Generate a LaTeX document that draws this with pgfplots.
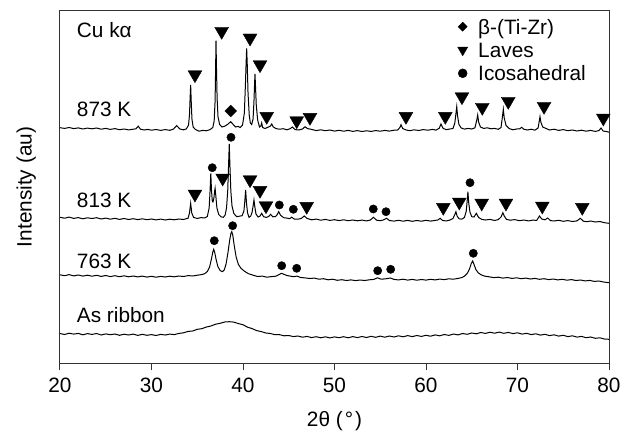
\documentclass[border=0pt]{standalone}
\usepackage{fontspec}
\setmainfont{Liberation Sans}
\usepackage{pgfplots}
\pgfplotsset{compat=1.18}
\usepackage{pgfplotstable}

\pgfplotstableread{
x y
20 29.5
20.5 28.5
21 29.8
21.5 28.9
22 29.6
22.5 28.2
23 29.4
23.5 28.6
24 29.5
24.5 28.0
25 29.1
25.5 28.3
26 29.0
26.5 27.7
27 28.8
27.5 28.0
28 28.9
28.5 27.6
29 28.7
29.5 27.7
30 28.4
30.5 27.5
31 28.6
31.5 28.0
32 28.9
32.5 28.4
33 29.6
33.5 30.2
34 31.6
34.5 32.0
35 33.7
35.5 34.3
36 36.0
36.5 37.0
37 38.8
37.5 39.7
38 41.0
38.5 41.3
39 40.9
39.5 39.4
40 38.3
40.5 35.8
41 34.4
41.5 32.4
42 31.4
42.5 30.0
43 29.5
43.5 28.3
44 28.3
44.5 27.2
45 27.5
45.5 26.4
46 27.0
46.5 25.8
47 26.6
47.5 25.4
48 26.3
48.5 25.2
49 26.2
49.5 25.1
50 26.1
50.5 25.3
51 26.3
51.5 25.2
52 26.4
52.5 25.4
53 26.5
53.5 25.5
54 26.7
54.5 25.7
55 26.9
55.5 25.8
56 27.0
56.5 26.0
57 27.2
57.5 26.2
58 27.4
58.5 26.4
59 27.5
59.5 26.6
60 27.7
60.5 26.8
61 28.1
61.5 27.2
62 28.5
62.5 27.6
63 29.0
63.5 28.1
64 29.5
64.5 28.7
65 30.0
65.5 29.2
66 30.5
66.5 29.6
67 30.8
67.5 29.8
68 30.9
68.5 29.7
69 30.6
69.5 29.4
70 30.2
70.5 28.9
71 29.7
71.5 28.4
72 29.2
72.5 27.9
73 28.7
73.5 27.4
74 28.2
74.5 26.9
75 27.7
75.5 26.4
76 27.2
76.5 25.9
77 26.6
77.5 25.3
78 26.0
78.5 24.7
79 25.2
79.5 24.0
80 23.7
}\ribbon

\pgfplotstableread{
x y
20 88.2
20.5 87.3
21 88.4
21.5 87.1
22 88.0
22.5 86.9
23 87.8
23.5 86.8
24 87.7
24.5 86.6
25 87.5
25.5 86.4
26 87.3
26.5 86.3
27 87.2
27.5 86.2
28 87.0
28.5 86.1
29 86.9
29.5 85.9
30 86.7
30.5 85.8
31 86.6
31.5 86.0
32 86.8
32.5 86.2
33 87.0
33.5 86.5
34 87.4
34.5 87.0
35 87.8
35.4 88.3
35.8 89.2
36.1 91.5
36.35 96
36.55 104
36.7 111
36.8 113.7
36.9 111
37.05 104
37.25 96.5
37.5 92.5
37.74 91.3
37.95 93
38.15 99
38.35 110
38.55 123
38.68 129.5
38.77 131.3
38.88 128
39.05 117
39.25 106
39.5 98.5
39.8 94.5
40.2 91.5
40.6 89.3
41.1 87.8
41.6 86.5
42.1 86.9
42.6 85.8
43.1 86.4
43.6 86.8
43.9 88.2
44.2 89.7
44.5 88.6
44.8 87.5
45.1 87.0
45.5 86.3
45.9 86.9
46.3 85.5
46.8 85.1
47.3 84.5
47.8 84.9
48.3 83.8
48.8 84.3
49.3 83.2
49.8 83.8
50.3 82.7
50.8 83.3
51.3 82.5
51.8 83.1
52.3 82.4
52.8 83.0
53.3 82.5
53.8 83.2
54.3 83.6
54.7 85.2
55.1 83.8
55.6 84.2
56.1 85.0
56.5 83.6
57 83.1
57.5 83.8
58 82.9
58.5 83.6
59 82.8
59.5 83.5
60 82.9
60.5 83.7
61 83.1
61.5 83.9
62 83.4
62.5 84.2
63 83.8
63.5 84.6
63.9 85.4
64.2 86.8
64.5 89.5
64.75 94
64.95 99.5
65.1 102
65.25 98.5
65.45 93.5
65.7 90.3
66.0 88.3
66.4 86.9
66.9 86.2
67.4 85.4
67.9 85.8
68.4 84.9
68.9 85.5
69.4 84.6
69.9 85.2
70.4 84.3
70.9 84.9
71.4 84.0
71.9 84.6
72.4 83.7
72.9 84.3
73.4 83.4
73.9 84.0
74.4 83.1
74.9 83.7
75.4 82.8
75.9 83.4
76.4 82.5
76.9 83.0
77.4 82.1
77.9 82.6
78.4 81.6
78.9 82.0
79.4 81.0
80 80.3
}\kA

\pgfplotstableread{
x y
20 145.7
20.5 144.8
21 145.9
21.5 144.6
22 145.4
22.5 144.2
23 145.2
23.5 144.5
24 145.3
24.5 144.0
25 144.9
25.5 143.8
26 144.7
26.5 143.6
27 144.5
27.5 143.5
28 144.3
28.5 143.4
29 144.2
29.5 143.3
30 144.0
30.5 143.1
31 143.9
31.5 143.0
32 143.8
32.5 143.2
33 144.0
33.5 143.5
34.0 144.8
34.15 150
34.28 159.7
34.4 150
34.6 145.6
35.0 144.5
35.4 145.4
35.8 145.0
36.1 146.5
36.3 155
36.4 172
36.48 189.7
36.56 172
36.65 161.3
36.72 161
36.82 165
36.9 172
36.95 174.7
37.02 168
37.15 155
37.35 148.5
37.6 146.2
37.85 145.7
38.05 148
38.2 155
38.33 172
38.43 200
38.50 219
38.57 198
38.67 172
38.8 157
39.0 149.5
39.31 146.3
39.6 146.8
39.9 147.3
40.1 152
40.2 162
40.29 173
40.38 160
40.5 150
40.66 145.7
40.85 147
41.0 151
41.12 158
41.2 163
41.28 157
41.42 149
41.65 146
41.85 146.8
42.04 149.7
42.25 146.3
42.55 145.6
42.8 146.5
43.02 148.7
43.25 146.2
43.55 146.4
43.75 148.5
43.9 151.3
44.1 147.8
44.45 145.3
44.8 144.9
45.1 144.3
45.32 145.8
45.6 144.0
46.0 143.8
46.35 144.5
46.7 147.0
47.0 144.6
47.5 143.2
48 143.9
48.5 142.8
49 143.6
49.5 142.6
50 143.3
50.5 142.4
51 143.2
51.5 142.3
52 143.0
52.5 142.2
53 142.9
53.5 142.1
53.9 142.9
54.26 145.7
54.6 142.8
55.0 142.3
55.35 143.1
55.7 144.7
56.0 142.5
56.5 141.9
57 142.7
57.5 141.8
58 142.6
58.5 141.7
59 142.5
59.5 141.8
60 142.7
60.5 141.9
61.0 142.6
61.3 143.0
61.55 144.7
61.8 142.6
62.2 142.0
62.6 142.9
62.95 144.5
63.15 148.5
63.27 151.3
63.4 147.0
63.6 144.3
63.9 143.8
64.2 145.5
64.4 152
64.5 162
64.58 171.3
64.66 161
64.8 151
65.0 146.3
65.25 146.0
65.5 149.7
65.75 145.5
66.1 143.6
66.5 143.0
67 143.6
67.5 142.5
67.9 143.4
68.2 146.0
68.4 150.3
68.55 147.0
68.8 143.6
69.2 142.8
69.7 143.4
70.2 142.3
70.7 143.0
71.2 142.1
71.7 142.9
72.1 142.6
72.4 147.0
72.65 144.0
73.0 143.2
73.3 145.0
73.6 142.4
74 142.0
74.5 142.7
75 141.7
75.5 142.4
76 141.5
76.5 142.1
76.86 144.7
77.2 141.8
77.6 141.3
78 142.0
78.5 141.0
79 141.5
79.5 140.3
80 139.7
}\kB

\pgfplotstableread{
x y
20 235.3
20.5 234.6
21 235.5
21.5 234.4
22 235.1
22.5 234.0
23 234.9
23.5 234.2
24 235.0
24.5 233.8
25 234.6
25.5 233.6
26 234.4
26.5 233.3
27 234.0
27.5 233.1
28 233.8
28.3 234.2
28.55 236.8
28.8 233.8
29.2 233.0
29.6 233.6
30 232.8
30.5 233.5
31 232.6
31.5 233.4
32 232.7
32.4 233.9
32.75 237.4
33.1 234.0
33.5 233.2
33.8 234.0
34.05 238
34.15 248
34.22 265
34.28 278
34.34 262
34.42 244
34.55 236
34.8 233.5
35.2 231.8
35.6 232.6
36 232.2
36.4 233.4
36.7 235.5
36.85 242
36.95 262
37.0 290
37.05 322.3
37.1 296
37.17 265
37.27 246
37.45 238.5
37.7 236
38.0 236.8
38.3 238.5
38.66 241.3
38.95 238.3
39.2 236.0
39.45 236.6
39.7 235.5
39.95 238
40.15 250
40.27 280
40.34 300
40.40 314.7
40.46 300
40.55 270
40.68 248
40.8 240
40.95 238.5
41.1 244
41.2 262
41.26 278
41.31 289
41.37 276
41.45 258
41.6 243
41.8 236
41.95 237
42.04 240
42.15 235.5
42.4 234.5
42.7 235.6
43.0 237
43.14 239
43.3 236.2
43.6 234.4
44.0 233.8
44.4 234.3
44.8 233.2
45.15 234.3
45.39 236.0
45.7 233.4
46.1 233.0
46.5 234.0
46.78 236.2
47.05 234.4
47.5 233.6
48 232.4
48.5 233.2
49 232.3
49.5 233.0
50 231.9
50.5 232.7
51 231.8
51.5 232.6
52 231.6
52.5 232.4
53 231.5
53.5 232.2
54 231.6
54.5 232.4
55 231.8
55.5 232.6
56 231.9
56.5 232.8
56.9 233.0
57.15 235.5
57.27 238.3
57.45 234.5
57.8 233.1
58.2 232.3
58.7 233.2
59.2 232.5
59.7 233.4
60.2 232.8
60.7 233.6
61.1 232.9
61.45 234.8
61.64 239.0
61.85 234.8
62.2 233.3
62.6 234.0
62.95 234.5
63.15 240
63.28 250
63.36 256.3
63.45 247
63.6 238.5
63.85 235.0
64.2 233.9
64.6 234.6
65.0 234.0
65.35 235.2
65.55 243
65.65 248
65.75 241
65.95 236.0
66.3 234.6
66.7 235.2
67.1 234.2
67.5 234.6
67.9 233.7
68.2 235.5
68.35 246
68.45 253.7
68.55 245
68.75 237.5
69.1 234.4
69.5 233.2
69.9 234.0
70.25 234.2
70.46 235.7
70.7 233.7
71.1 233.0
71.5 233.8
71.9 232.8
72.25 235
72.4 243
72.46 246.3
72.55 241
72.75 236
73.1 234.6
73.5 233.0
74 233.8
74.5 232.6
75 233.4
75.5 232.3
76 233.0
76.5 232.0
77 232.8
77.5 231.8
78 232.6
78.5 231.6
78.9 232.4
79.13 235.0
79.35 232.0
79.7 231.5
80 230.8
}\kC

\begin{document}
\begin{tikzpicture}[font=\fontsize{20.8bp}{24bp}\selectfont]
\begin{axis}[
  at={(0,0)}, anchor=south west,
  scale only axis, width=549bp, height=352bp,
  xmin=20, xmax=80, ymin=0, ymax=352,
  xtick={20,30,...,80}, ytick=\empty,
  xtick pos=bottom, tick align=outside,
  major tick length=7bp,
  axis line style={line width=1bp, black!80},
  every tick/.style={line width=1bp, black!80},
  /pgf/number format/assume math mode=true,
  xticklabel style={anchor=north, inner sep=0pt, font=\fontsize{20.8bp}{24bp}\selectfont},
  xticklabel shift=8bp,
  xlabel={2θ (\kern2bp°\kern2bp)},
  ylabel={Intensity (au)},
  xlabel style={at={(axis description cs:0.5,0)}, anchor=base, yshift=-63.7bp, inner sep=0pt},
  ylabel style={at={(axis description cs:-0.0516,0.5)}, anchor=base, inner sep=0pt},
  legend cell align=left,
  legend image post style={yshift=7.5bp},
  legend style={at={(axis cs:63.44,344)}, anchor=north west, draw=none, fill=none,
    inner sep=0pt, row sep=3.8bp,
    nodes={inner ysep=0pt, inner xsep=10.5bp, text height=15bp, text depth=4.5bp, anchor=base west},
    font=\fontsize{20.8bp}{24bp}\selectfont},
]
\addplot[black, line width=1bp, forget plot] table {\ribbon};
\addplot[black, line width=1bp, forget plot] table {\kA};
\addplot[black, line width=1bp, forget plot] table {\kB};
\addplot[black, line width=1bp, forget plot] table {\kC};

% 873 K Laves
\addplot[only marks, mark=triangle*, mark size=8bp, mark options={rotate=180, fill=black, draw=black}, forget plot] coordinates {
(34.75,288.3) (37.67,331.7) (40.77,325) (41.86,298.3) (42.59,246.7) (45.87,242.3) (47.32,245.7)
(57.81,246.7) (62.11,246.7) (63.93,266.3) (66.15,255.7) (68.99,261.7) (72.9,256.7) (79.38,245)};
% 873 K beta
\addplot[only marks, mark=square*, mark size=4.1bp, mark options={rotate=45, fill=black, draw=black}, forget plot] coordinates {(38.66,252)};
% 813 K Laves
\addplot[only marks, mark=triangle*, mark size=8bp, mark options={rotate=180, fill=black, draw=black}, forget plot] coordinates {
(34.75,169) (37.78,185) (40.77,183.3) (41.86,172.7) (42.51,157.3) (46.96,156.7)
(61.89,155.7) (63.64,161) (66.09,160) (68.74,160) (72.71,157) (77.08,155.7)};
% 813 K icosahedral
\addplot[only marks, mark=*, mark size=4.15bp, mark options={fill=black, draw=black}, forget plot] coordinates {
(36.64,195.3) (38.69,225.7) (43.97,158) (45.5,153.7) (54.24,154) (55.63,151.3) (64.81,180.3)};
% 763 K icosahedral
\addplot[only marks, mark=*, mark size=4.15bp, mark options={fill=black, draw=black}, forget plot] coordinates {
(36.86,122.3) (38.87,137.3) (44.23,97.3) (45.87,94.7) (54.72,92.3) (56.14,93.7) (65.17,109.7)};

\addlegendimage{only marks, mark=square*, mark size=3.2bp, mark options={rotate=45, fill=black, draw=black}}
\addlegendentry{β-(Ti-Zr)}
\addlegendimage{only marks, mark=triangle*, mark size=5.8bp, mark options={rotate=180, fill=black, draw=black}}
\addlegendentry{Laves}
\addlegendimage{only marks, mark=*, mark size=4.5bp, mark options={fill=black, draw=black}}
\addlegendentry{Icosahedral}

\node[anchor=base west, inner sep=0pt] at (axis cs:21.83,325.7) {Cu kα};
\node[anchor=base west, inner sep=0pt] at (axis cs:21.83,246.3) {873 K};
\node[anchor=base west, inner sep=0pt] at (axis cs:21.83,155.7) {813 K};
\node[anchor=base west, inner sep=0pt] at (axis cs:21.83,94.7) {763 K};
\node[anchor=base west, inner sep=0pt] at (axis cs:21.83,40.3) {As ribbon};
\end{axis}
\path (-60bp,-68bp) rectangle (571bp,363bp);
\end{tikzpicture}
\end{document}
